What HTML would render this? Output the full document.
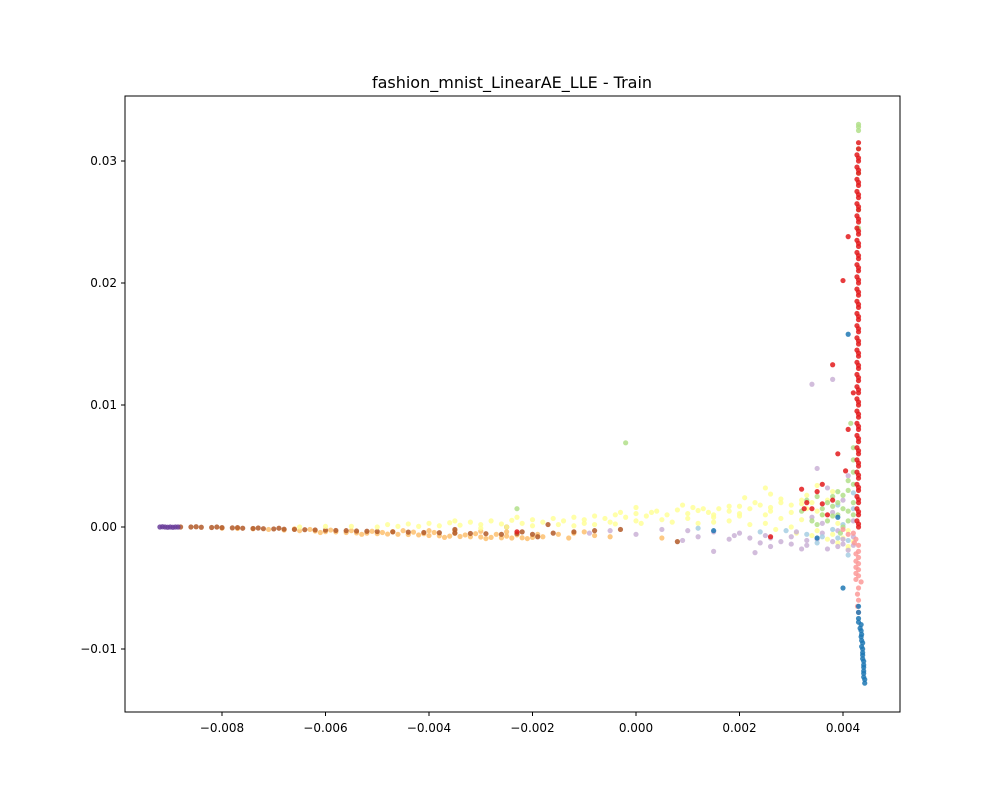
<!DOCTYPE html>
<html><head><meta charset="utf-8"><style>
body{margin:0;background:#fff;font-family:"Liberation Sans","DejaVu Sans",sans-serif;}
svg text{font-family:"DejaVu Sans","Liberation Sans",sans-serif;}
</style></head><body>
<svg id="chart" width="1000" height="800" xmlns="http://www.w3.org/2000/svg">
<rect width="1000" height="800" fill="#fff"/>
<text x="512" y="88" text-anchor="middle" font-size="16">fashion_mnist_LinearAE_LLE - Train</text>
<g id="marks"></g>
<rect x="125" y="96" width="775" height="616" fill="none" stroke="#000" stroke-width="1"/>
<g id="axes"></g>
</svg>
<script>
// values in units of 1e-3, flat [x,y,x,y,...]
const xTicks=[-8,-6,-4,-2,0,2,4];
const xTickLabels=["−0.008","−0.006","−0.004","−0.002","0.000","0.002","0.004"];
const yTicks=[-10,0,10,20,30];
const yTickLabels=["−0.01","0.00","0.01","0.02","0.03"];
const colors={orange:"#fdbf6f",brown:"#b15928",purple:"#6a3d9a",yellow:"#ffff99",lavender:"#cab2d6",green:"#b2df8a",pink:"#fb9a99",blue:"#1f78b4",red:"#e31a1c",lblue:"#a6cee3"};
const orangePts=[-8,-0.1,-7.7,-0.12,-7.4,-0.15,-7.1,-0.2,-6.8,-0.25,-6.5,-0.3,-6.2,-0.33,-6,-0.38,-5.8,-0.4,-5.6,-0.45,-5.4,-0.48,-5.2,-0.5,-5,-0.55,-4.8,-0.58,-4.6,-0.6,-4.4,-0.62,-4.2,-0.65,-4,-0.7,-3.8,-0.72,-3.6,-0.75,-3.4,-0.78,-3.2,-0.8,-3,-0.82,-2.8,-0.85,-2.6,-0.88,-2.4,-0.9,-2.2,-0.88,-2,-0.85,-1.8,-0.8,-6.6,-0.15,-6.3,-0.2,-5.9,-0.25,-5.5,-0.3,-5.1,-0.35,-4.7,-0.38,-4.3,-0.42,-3.9,-0.45,-3.5,-0.5,-3.1,-0.55,-2.7,-0.6,-2.3,-0.65,-1.9,-0.6,-4.5,-0.3,-4,-0.3,-3.5,-0.3,-3,-0.35,-2.5,-0.4,-4.9,-0.45,-4.1,-0.55,-3.3,-0.65,-2.5,-0.75,-1.5,-0.6,-1.2,-0.5,-1,-0.4,-0.5,-0.8,0.5,-0.9,-0.8,-0.7,-1.3,-0.9,-2.1,-0.95,-2.9,-0.95,-3.7,-0.85,-5.3,-0.6,-6.1,-0.45];
const brownPts=[-8.8,0,-8.6,0,-8.4,-0.02,-8.2,-0.04,-8,-0.05,-7.8,-0.07,-7.6,-0.1,-7.4,-0.12,-7.2,-0.14,-7,-0.16,-6.8,-0.18,-6.6,-0.2,-6.4,-0.22,-6.2,-0.24,-6,-0.26,-5.8,-0.28,-5.6,-0.3,-5.4,-0.33,-5.2,-0.35,-5,-0.37,-4.7,-0.4,-4.4,-0.42,-4.1,-0.45,-3.8,-0.47,-3.5,-0.5,-3.2,-0.53,-2.9,-0.55,-2.6,-0.6,-2.3,-0.55,-2,-0.6,-1.6,-0.5,-1.2,-0.4,-0.8,-0.3,-0.3,-0.2,0.8,-1.2,-3.5,-0.2,-2.5,0,-1.7,0.2,-8.5,0.02,-8.1,0,-7.7,-0.05,-7.3,-0.08,-6.9,-0.1,-1.9,-0.8,-2.2,-0.4];
const purplePts=[-9.2,0,-9.1,0,-9.15,0.02,-9.05,-0.02,-9,0,-8.9,0,-8.95,-0.02,-8.85,0];
const yellowPts=[-5,0,-4.6,0.05,-4.2,0.05,-3.8,0.1,-3.4,0.15,-3,0.2,-2.6,0.25,-2.2,0.3,-1.8,0.4,-1.4,0.5,-1,0.6,-0.6,0.7,-0.2,0.8,0.2,0.9,0.6,1,1,1.1,1.4,1.2,1.8,1.3,2.2,1.5,2.6,1.6,3,1.8,3.4,2,3.7,2.2,-3,-0.1,-2.5,0,-2,0.1,-1.5,0.2,-1,0.3,-0.5,0.4,0,0.5,0.5,0.6,1,0.7,1.5,0.8,2,0.9,2.5,1,3,1.2,3.5,1.3,0.3,1.2,0.8,1.4,1.3,1.5,1.8,1.7,2.3,2,2.8,2.3,3.3,2.6,3.8,2.9,2.5,0.3,3,0,3.5,-0.3,3.8,-0.6,4,-0.9,4.2,-1.2,4.1,-1.6,3.2,0.6,2.8,0.7,1.5,1,0.9,1.8,2.5,3.2,-0.3,1.2,1.5,0.4,3.6,1,3.9,0.3,4.1,-0.3,-6.5,0,-6,0.05,-5.5,0.05,-4.8,0.2,-4.4,0.25,-4,0.3,-3.6,0.35,-3.2,0.4,-2.8,0.5,-2.4,0.55,-2,0.6,-1.6,0.7,-1.2,0.8,-0.8,0.9,-0.4,1,0,1.1,0.4,1.3,1.2,1.35,1.6,1.5,2,1.7,2.4,1.8,2.8,2,3.2,2.2,-1.2,0.1,-0.8,0.2,-0.4,0.25,0.1,0.3,0.7,0.4,1.2,0.3,1.8,0.5,2.2,0.2,2.7,-0.2,3.1,-0.5,3.4,-0.7,3.7,-1,3.9,-1.3,4.1,-1.8,2,1.1,2.6,1.3,3.3,1.5,0,1.6,1.1,1.6,2.1,2.4,3.5,3.4,3.2,1.9,2.6,2.7,-2.3,0.8,-3.5,0.5];
const lavenderPts=[0.5,-0.2,1,-0.3,1.5,-0.4,2,-0.5,2.5,-0.7,3,-0.8,3.5,-1,3.8,-1.2,4,-1.4,4.2,-1.5,2.2,-0.9,2.8,-1.2,3.3,-1.5,3.7,-1.8,4.1,-1.9,1.2,-0.8,1.8,-1,2.4,-1.3,3.1,-0.4,3.6,-0.5,0,-0.6,-0.5,-0.3,1.5,-2,2.3,-2.1,3.4,11.7,3.8,12.1,3.2,-1.8,4.2,-0.8,4,-1,1.9,-0.7,2.6,-0.9,3.3,-1.1,3.9,-0.3,3.6,0.3,3.8,1.2,4,2.2,3.7,3.2,4.1,4.2,3.5,4.8,2.6,-1.6,3,-1.4,3.9,-1.6,4.2,0.5,3.4,0.8,0.9,-1.1,-0.9,-0.5];
const lbluePts=[3.6,-0.8,3.9,-0.9,4.1,-1.1,4,0.2,4.2,1.5,3.8,-0.2,3.5,-1.3,4.1,-2.3,3.3,-0.6,2.9,-0.3,1.2,-0.1,2.4,-0.4,4.2,2.8,3.9,1.8];
const greenPts=[4,0,4.1,0.5,3.9,1,4,1.5,4.2,2,3.8,2.5,4.1,3,4.2,3.5,3.7,0.5,3.6,1.5,4.2,1,3.9,2,4.3,32.8,4.3,33,4.3,32.5,4.3,31,4.3,29,4.3,26,4.3,24.5,-2.3,1.5,-0.2,6.9,3.5,0.2,4.2,4.5,4.2,5.5,3.7,2,3.8,1.7,3.5,2.5,3.9,2.9,4.1,3.8,3.6,1,3.4,0.5,3.3,2.2,4,2.6,3.8,0.9,4.1,1.3,3.95,-0.5,3.2,1.3,4.2,6.5,4.15,8.5];
const pinkPts=[4.3,-2,4.3,-2.5,4.3,-3,4.3,-3.5,4.3,-4,4.35,-4.5,4.3,-5,4.3,-1.5,4.25,-1,4.2,-0.5,4,-0.2,4.3,-6,4.3,-7,4.25,-2.2,4.25,-2.8,4.25,-3.3,4.25,-3.8,4.25,-4.3,4.28,-5.5,4.28,-6.5,4.22,-1.3,4.1,-0.6];
const bluePts=[4.35,-8,4.35,-8.5,4.35,-9,4.38,-9.5,4.38,-10,4.38,-10.5,4.4,-11,4.4,-11.5,4.4,-12,4.42,-12.5,4.42,-12.8,4.3,-7,4.3,-6.5,4.1,15.8,4,-5,4.33,-8.3,4.36,-8.8,4.36,-9.3,4.36,-9.8,4.38,-10.3,4.38,-10.8,4.4,-11.3,4.4,-11.8,4.4,-12.3,4.3,-7.5,4.3,-7.8,3.9,0.8,3.5,-0.9,1.5,-0.3];
const redPts=[4.3,0,4.3,1,4.3,2,4.3,3,4.3,4,4.3,5,4.3,6,4.3,7,4.3,8,4.3,9,4.3,10,4.3,11,4.3,12,4.3,13,4.3,14,4.3,15,4.3,16,4.3,17,4.3,18,4.3,19,4.3,20,4.3,21,4.3,22,4.3,23,4.3,24,4.3,25,4.3,26,4.3,27,4.3,28,4.3,29,4.3,30,4.3,31,4.3,31.5,4.27,0.5,4.27,1.5,4.27,2.5,4.27,3.5,4.27,4.5,4.27,5.5,4.27,6.5,4.27,7.5,4.27,8.5,4.27,9.5,4.27,10.5,4.27,11.5,4.27,12.5,4.27,13.5,4.27,14.5,4.27,15.5,4.27,16.5,4.27,17.5,4.27,18.5,4.27,19.5,4.27,20.5,4.27,21.5,4.27,22.5,4.27,23.5,4.27,24.5,4.27,25.5,4.27,26.5,4.27,27.5,4.27,28.5,4.27,29.5,4.27,30.5,4.3,0.25,4.3,1.25,4.3,2.25,4.3,3.25,4.3,4.25,4.3,5.25,4.3,6.25,4.3,7.25,4.3,8.25,4.3,9.25,4.3,10.25,4.3,11.25,4.3,12.25,4.3,13.25,4.3,14.25,4.3,15.25,4.3,16.25,4.3,17.25,4.3,18.25,4.3,19.25,4.3,20.25,4.3,21.25,4.3,22.25,4.3,23.25,4.3,24.25,4.3,25.25,4.3,26.25,4.3,27.25,4.3,28.25,4.3,29.25,4.3,30.25,4.1,23.8,4,20.2,3.8,13.3,3.6,3.5,3.3,2,3.9,6,4.1,8,3.7,1,3.4,1.5,4.2,11,3.2,3.1,3.5,2.9,3.8,2.2,3.6,1.9,4.05,4.6,3.25,1.5,2.6,-0.8,-2.3,-0.4];
const xs=v=>636+v*51.75, ys=v=>527-v*12.2;
const ns="http://www.w3.org/2000/svg";
const g=document.getElementById('marks');
function draw(pts,col,name){
  for(let i=0;i<pts.length;i+=2){
    const c=document.createElementNS(ns,'circle');
    c.setAttribute('cx',xs(pts[i]));c.setAttribute('cy',ys(pts[i+1]));c.setAttribute('r',2.6);
    c.setAttribute('fill',col);c.setAttribute('fill-opacity','0.85');
    
    
    g.appendChild(c);
  }
}
draw(orangePts,colors.orange,'point-orange');
draw(brownPts,colors.brown,'point-brown');
draw(purplePts,colors.purple,'point-purple');
draw(yellowPts,colors.yellow,'point-yellow');
draw(lavenderPts,colors.lavender,'point-lavender');
draw(lbluePts,colors.lblue,'point-light-blue');
draw(greenPts,colors.green,'point-green');
draw(pinkPts,colors.pink,'point-pink');
draw(bluePts,colors.blue,'point-blue');
draw(redPts,colors.red,'point-red');
const ax=document.getElementById('axes');
xTicks.forEach((t,i)=>{
  const x=xs(t);
  const l=document.createElementNS(ns,'line');
  l.setAttribute('x1',x);l.setAttribute('x2',x);l.setAttribute('y1',712);l.setAttribute('y2',716);l.setAttribute('stroke','#000');
  
  
  ax.appendChild(l);
  const tx=document.createElementNS(ns,'text');
  tx.setAttribute('x',x);tx.setAttribute('y',732);tx.setAttribute('text-anchor','middle');tx.setAttribute('font-size','12');
  tx.textContent=xTickLabels[i];
  
  
  ax.appendChild(tx);
});
yTicks.forEach((t,i)=>{
  const y=ys(t);
  const l=document.createElementNS(ns,'line');
  l.setAttribute('x1',121);l.setAttribute('x2',125);l.setAttribute('y1',y);l.setAttribute('y2',y);l.setAttribute('stroke','#000');
  
  
  ax.appendChild(l);
  const tx=document.createElementNS(ns,'text');
  tx.setAttribute('x',117);tx.setAttribute('y',y+4);tx.setAttribute('text-anchor','end');tx.setAttribute('font-size','12');
  tx.textContent=yTickLabels[i];
  
  
  ax.appendChild(tx);
});
</script>
</body></html>
